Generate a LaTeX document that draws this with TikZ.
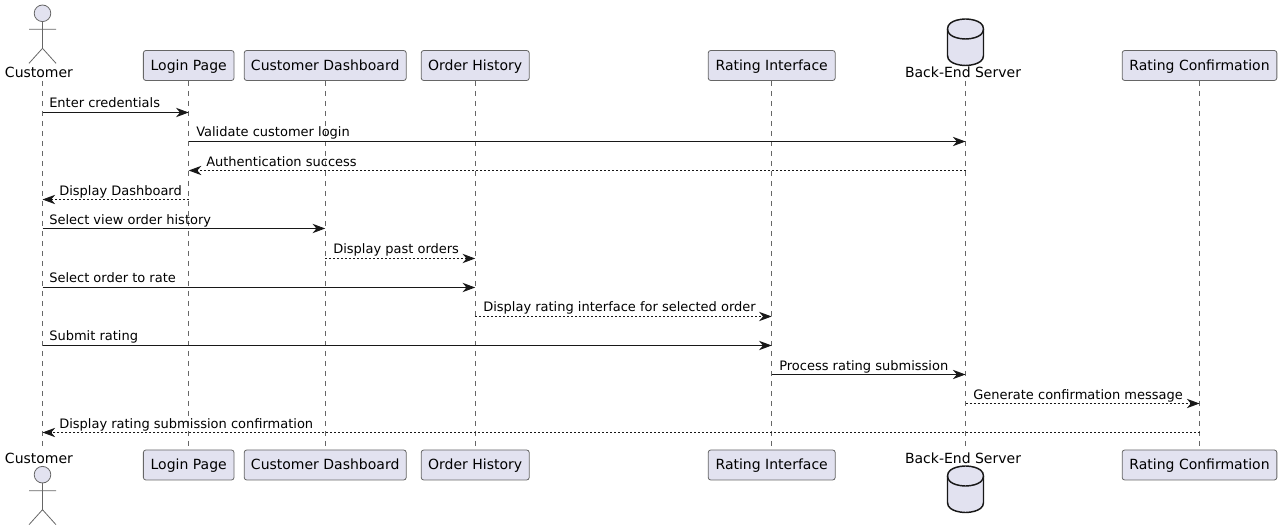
\documentclass[tikz,border=0pt]{standalone}
\usepackage{fontspec}
\setmainfont{DejaVu Sans}
\usetikzlibrary{arrows.meta}
\definecolor{pfill}{HTML}{E2E2F0}
\definecolor{pline}{HTML}{181818}
\definecolor{pthin}{HTML}{666666}
\tikzset{
  partbox/.style={draw=pthin,line width=0.6pt,fill=pfill,rounded corners=1.9pt,inner xsep=0pt,inner ysep=0pt,
    minimum height=22.5pt,text height=9pt,text depth=2.2pt,font=\fontsize{10.5pt}{12pt}\selectfont,text=black,anchor=center},
  partlabel/.style={inner sep=0pt,anchor=base,font=\fontsize{10.5pt}{12pt}\selectfont,text=black},
  lifeline/.style={draw=pthin,line width=0.5pt,dash pattern=on 3.75pt off 3.75pt},
  actorshape/.style={draw=pthin,line width=0.6pt},
  dbshape/.style={draw=pline,line width=1.1pt,fill=pfill},
  msgsolid/.style={draw=pline,line width=0.75pt,-{Stealth[length=9.5pt,width=7pt,inset=3pt,fill=pline]}},
  msgdash/.style={msgsolid,dash pattern=on 1.5pt off 1.5pt},
  msglabel/.style={inner sep=0pt,font=\fontsize{9.75pt}{12pt}\selectfont,text=black}
}
\newcommand{\actorfig}[2]{% x, head centre y
  \draw[actorshape,fill=pfill] (#1,#2) circle[radius=8.3];
  \draw[actorshape] (#1,#2+8.3) -- (#1,#2+35) (#1-13.5,#2+16) -- (#1+13.5,#2+16)
    (#1-13.5,#2+50) -- (#1,#2+35) -- (#1+13.5,#2+50);
}
\newcommand{\dbfig}[2]{% x, top y
  \draw[dbshape] (#1-18,#2+10) .. controls (#1-18,#2) and (#1,#2) .. (#1,#2)
    .. controls (#1,#2) and (#1+18,#2) .. (#1+18,#2+10) -- (#1+18,#2+36.5)
    .. controls (#1+18,#2+46.5) and (#1,#2+46.5) .. (#1,#2+46.5)
    .. controls (#1,#2+46.5) and (#1-18,#2+46.5) .. (#1-18,#2+36.5) -- cycle;
  \draw[dbshape,fill=none] (#1-18,#2+10) .. controls (#1-18,#2+20) and (#1,#2+20) .. (#1,#2+20)
    .. controls (#1,#2+20) and (#1+18,#2+20) .. (#1+18,#2+10);
}
\begin{document}
\begin{tikzpicture}[x=0.75pt,y=-0.75pt]
\useasboundingbox (0,0) rectangle (1281,530);
% top participants
\node[partbox,minimum width=68pt] (login) at (188.7,65.5) {Login Page};
\node[partbox,minimum width=121.5pt] (dash) at (325.2,65.5) {Customer Dashboard};
\node[partbox,minimum width=81pt] (hist) at (475.2,65.5) {Order History};
\node[partbox,minimum width=95.25pt] (rate) at (771.7,65.5) {Rating Interface};
\node[partbox,minimum width=116pt] (conf) at (1199.5,65.5) {Rating Confirmation};
\node[partlabel] (cust) at (39,78) {Customer};
\node[partlabel] (back) at (963,78) {Back-End Server};
% bottom participants
\node[partbox,minimum width=68pt] (loginb) at (188.7,465) {Login Page};
\node[partbox,minimum width=121.5pt] (dashb) at (325.2,465) {Customer Dashboard};
\node[partbox,minimum width=81pt] (histb) at (475.2,465) {Order History};
\node[partbox,minimum width=95.25pt] (rateb) at (771.7,465) {Rating Interface};
\node[partbox,minimum width=116pt] (confb) at (1199.5,465) {Rating Confirmation};
\node[partlabel] (custb) at (39,463.5) {Customer};
\node[partlabel] (backb) at (963,463.5) {Back-End Server};
% lifeline anchors
\coordinate (ct) at (42.5,81); \coordinate (cb) at (42.5,449);
\coordinate (st) at (965.5,81); \coordinate (sb) at (965.5,449);
% lifelines
\draw[lifeline] (ct) -- (cb);
\draw[lifeline] (login.south) -- (loginb.north);
\draw[lifeline] (dash.south) -- (dashb.north);
\draw[lifeline] (hist.south) -- (histb.north);
\draw[lifeline] (rate.south) -- (rateb.north);
\draw[lifeline] (st) -- (sb);
\draw[lifeline] (conf.south) -- (confb.north);
% figures
\actorfig{42.5}{13.3}
\actorfig{42.5}{474.7}
\dbfig{965.5}{19}
\dbfig{965.5}{466}
% messages
\draw[msgsolid] (ct |- 0,112.5) -- (login.south |- 0,112.5);
\node[msglabel,anchor=base west] (m1) at (49,108) {Enter credentials};
\draw[msgsolid] (login.south |- 0,141.5) -- (st |- 0,141.5);
\node[msglabel,anchor=base west] (m2) at (196,137) {Validate customer login};
\draw[msgdash] (st |- 0,170.5) -- (login.south |- 0,170.5);
\node[msglabel,anchor=base west] (m3) at (206,166.5) {Authentication success};
\draw[msgdash] (login.south |- 0,199.5) -- (ct |- 0,199.5);
\node[msglabel,anchor=base west] (m4) at (59,195.5) {Display Dashboard};
\draw[msgsolid] (ct |- 0,228.5) -- (dash.south |- 0,228.5);
\node[msglabel,anchor=base west] (m5) at (49,224.5) {Select view order history};
\draw[msgdash] (dash.south |- 0,258.5) -- (hist.south |- 0,258.5);
\node[msglabel,anchor=base west] (m6) at (333,254) {Display past orders};
\draw[msgsolid] (ct |- 0,287.5) -- (hist.south |- 0,287.5);
\node[msglabel,anchor=base west] (m7) at (49,283) {Select order to rate};
\draw[msgdash] (hist.south |- 0,316.5) -- (rate.south |- 0,316.5);
\node[msglabel,anchor=base west] (m8) at (483,311.5) {Display rating interface for selected order};
\draw[msgsolid] (ct |- 0,345.5) -- (rate.south |- 0,345.5);
\node[msglabel,anchor=base west] (m9) at (49,341) {Submit rating};
\draw[msgsolid] (rate.south |- 0,374.5) -- (st |- 0,374.5);
\node[msglabel,anchor=base west] (m10) at (779,370.5) {Process rating submission};
\draw[msgdash] (st |- 0,403.5) -- (conf.south |- 0,403.5);
\node[msglabel,anchor=base west] (m11) at (973,399.5) {Generate confirmation message};
\draw[msgdash] (conf.south |- 0,432.5) -- (ct |- 0,432.5);
\node[msglabel,anchor=base west] (m12) at (59,428.5) {Display rating submission confirmation};
\end{tikzpicture}
\end{document}
